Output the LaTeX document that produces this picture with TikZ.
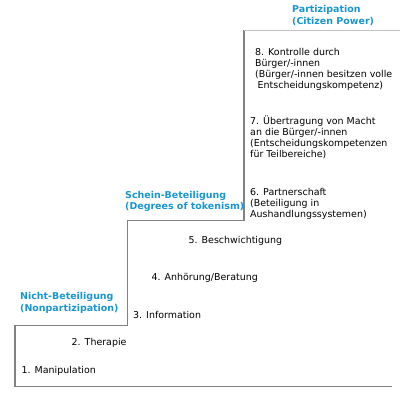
\documentclass[tikz,border=0pt]{standalone}
\usepackage{fontspec}
\setmainfont{DejaVu Sans}
\definecolor{stepblue}{RGB}{25,150,210}
\definecolor{stairgray}{RGB}{130,130,130}
\definecolor{toplinegray}{RGB}{195,195,195}
\tikzset{
  lbl/.style={anchor=base west, inner sep=0pt, align=left, font=\fontsize{9.5}{11}\selectfont, text=black},
  grp/.style={lbl, font=\fontsize{9.5}{11.5}\selectfont\bfseries, text=stepblue},
  stair/.style={draw=stairgray, line width=1.3bp, line join=miter}
}
\begin{document}
\begin{tikzpicture}[x=1bp,y=-1bp]
\useasboundingbox (0,0) rectangle (400,400);
\draw[stair] (392,386.7) -- (15,386.7) -- (15,325.5) -- (127.5,325.5) -- (127.5,220.8) -- (244,220.8) -- (244,30);
\draw[stair, draw=toplinegray, line width=1bp] (244,30) -- (400,30);
\node[grp] (part) at (292,24) {Partizipation\\(Citizen Power)};
\node[lbl] (n8) at (255,88) {8. Kontrolle durch\\Bürger/-innen\\(Bürger/-innen besitzen volle\\\hspace*{2.5bp}Entscheidungskompetenz)};
\node[lbl] (n7) at (250,157.5) {7. Übertragung von Macht\\an die Bürger/-innen\\(Entscheidungskompetenzen\\für Teilbereiche)};
\node[lbl] (n6) at (250,217) {6. Partnerschaft\\(Beteiligung in\\Aushandlungssystemen)};
\node[grp] (schein) at (125,209.5) {Schein-Beteiligung\\(Degrees of tokenism)};
\node[lbl] (n5) at (188.5,243) {5. Beschwichtigung};
\node[lbl] (n4) at (151.5,280) {4. Anhörung/Beratung};
\node[grp] (nicht) at (20,311) {Nicht-Beteiligung\\(Nonpartizipation)};
\node[lbl] (n3) at (133,318) {3. Information};
\node[lbl] (n2) at (71.5,345) {2. Therapie};
\node[lbl] (n1) at (21.5,373) {1. Manipulation};
\end{tikzpicture}
\end{document}
